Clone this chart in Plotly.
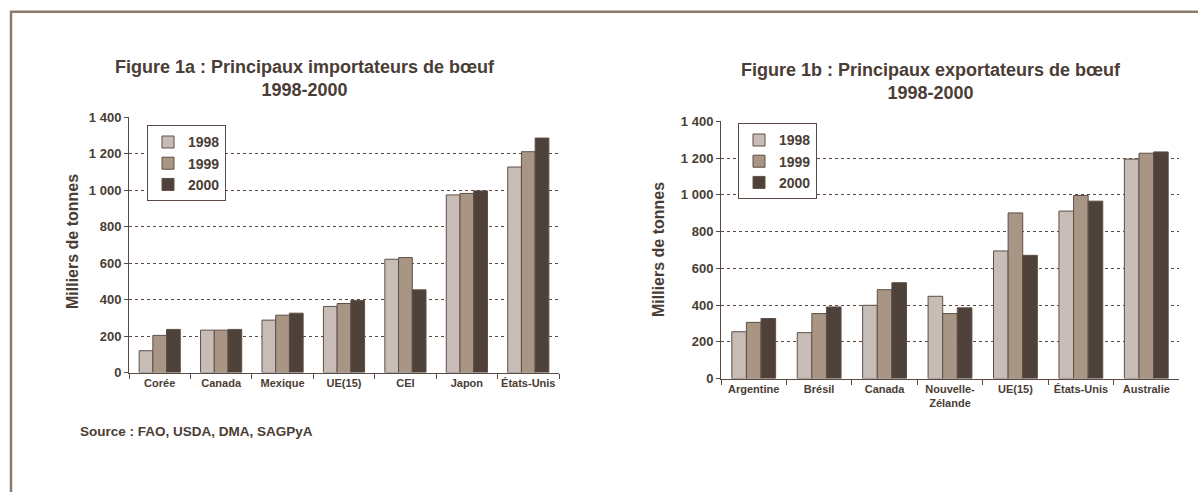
import plotly.graph_objects as go

W, H = 1198, 492

# ---------------- data ----------------
years = ["1998", "1999", "2000"]

importers = ["Corée", "Canada", "Mexique", "UE(15)", "CEI", "Japon", "États-Unis"]
imp_1998 = [120, 233, 288, 363, 622, 975, 1128]
imp_1999 = [204, 233, 315, 379, 631, 983, 1212]
imp_2000 = [237, 237, 326, 396, 454, 997, 1287]

exporters = ["Argentine", "Brésil", "Canada", "Nouvelle-<br>Zélande", "UE(15)", "États-Unis", "Australie"]
exp_1998 = [255, 250, 399, 448, 695, 912, 1195]
exp_1999 = [306, 354, 484, 354, 902, 997, 1227]
exp_2000 = [327, 390, 522, 385, 671, 966, 1234]

y_tickvals = [0, 200, 400, 600, 800, 1000, 1200, 1400]
y_ticktext = ["0", "200", "400", "600", "800", "1 000", "1 200", "1 400"]

title_a = "Figure 1a : Principaux importateurs de bœuf<br>1998-2000"
title_b = "Figure 1b : Principaux exportateurs de bœuf<br>1998-2000"
y_title = "Milliers de tonnes"
source = "Source : FAO, USDA, DMA, SAGPyA"

# ---------------- style ----------------
colors = ["#C8BDB6", "#A99584", "#4E4139"]
edge = "#5E4F46"
txt = "#4A3D35"
axc = "#5A4A41"
FONT = "Liberation Sans, Arial, sans-serif"


def px(x):
    return x / W


def py(y):
    # compensate the vertical offset/scale observed in the rendered picture
    fy = (y - 6.2) / 0.9727
    return (H - fy) / H


fig = go.Figure()

for yr, vals, col in zip(years, [imp_1998, imp_1999, imp_2000], colors):
    fig.add_trace(go.Bar(x=importers, y=vals, name=yr, marker=dict(color=col, line=dict(color=edge, width=1)),
                         xaxis="x", yaxis="y", legend="legend"))
for yr, vals, col in zip(years, [exp_1998, exp_1999, exp_2000], colors):
    fig.add_trace(go.Bar(x=exporters, y=vals, name=yr, marker=dict(color=col, line=dict(color=edge, width=1)),
                         xaxis="x2", yaxis="y2", legend="legend2"))

xax = dict(type="category", showline=True, linecolor=axc, linewidth=1, ticks="outside", tickson="boundaries",
           ticklen=5, tickcolor=axc, tickangle=0, tickfont=dict(size=11, color=txt, family=FONT, weight="bold"),
           showgrid=False, fixedrange=True)
yax = dict(range=[0, 1400], tickvals=y_tickvals, ticktext=y_ticktext, showline=True, linecolor=axc, linewidth=1,
           ticks="outside", ticklen=4, tickcolor=axc, showgrid=True, gridcolor=axc, griddash="dot", gridwidth=1,
           zeroline=False, tickfont=dict(size=13, color=txt, family=FONT, weight="bold"), fixedrange=True)

leg = dict(bgcolor="white", bordercolor=axc, borderwidth=1, font=dict(size=14, color=txt, family=FONT, weight="bold"),
           xanchor="left", yanchor="top", itemwidth=30, tracegroupgap=0, traceorder="normal")

fig.update_layout(
    width=W, height=H, margin=dict(l=0, r=0, t=0, b=0),
    paper_bgcolor="white", plot_bgcolor="white",
    font=dict(family=FONT, color=txt, weight="bold"),
    barmode="group", bargap=0.33, bargroupgap=0,
    xaxis=dict(xax, domain=[px(129), px(559)], anchor="y"),
    yaxis=dict(yax, domain=[py(373), py(117)], anchor="x"),
    xaxis2=dict(xax, domain=[px(721), px(1179)], anchor="y2"),
    yaxis2=dict(yax, domain=[py(379), py(121)], anchor="x2"),
    legend=dict(leg, x=px(147), y=py(125)),
    legend2=dict(leg, x=px(738), y=py(123)),
    showlegend=True,
)

annos = [
    dict(text=title_a, x=px(305), y=py(78), font=dict(size=18)),
    dict(text=title_b, x=px(931), y=py(81), font=dict(size=18)),
    dict(text=y_title, x=px(72), y=py(242), textangle=-90, font=dict(size=16)),
    dict(text=y_title, x=px(658), y=py(250), textangle=-90, font=dict(size=16)),
    dict(text=source, x=px(78), y=py(432), xanchor="left", font=dict(size=13.5)),
]
for a in annos:
    a.setdefault("xanchor", "center")
    a["font"].update(family=FONT, color=txt, weight="bold")
    fig.add_annotation(xref="paper", yref="paper", showarrow=False, yanchor="middle", **a)

# outer frame (only top and left edges visible)
fig.add_shape(type="rect", xref="paper", yref="paper", x0=px(11), x1=1.3, y0=-0.3, y1=py(11),
              line=dict(color="#8C7A6B", width=2.5), layer="above")

post = (
    "document.documentElement.style.margin='0';"
    "document.documentElement.style.overflow='hidden';"
    "document.body.style.margin='0';"
    "document.body.style.overflow='hidden';"
    "var d=document.getElementById('{plot_id}');"
    "d.style.position='fixed';d.style.top='0px';d.style.left='0px';"
)

fig.write_html("out.html", config={"displayModeBar": False}, post_script=post)
